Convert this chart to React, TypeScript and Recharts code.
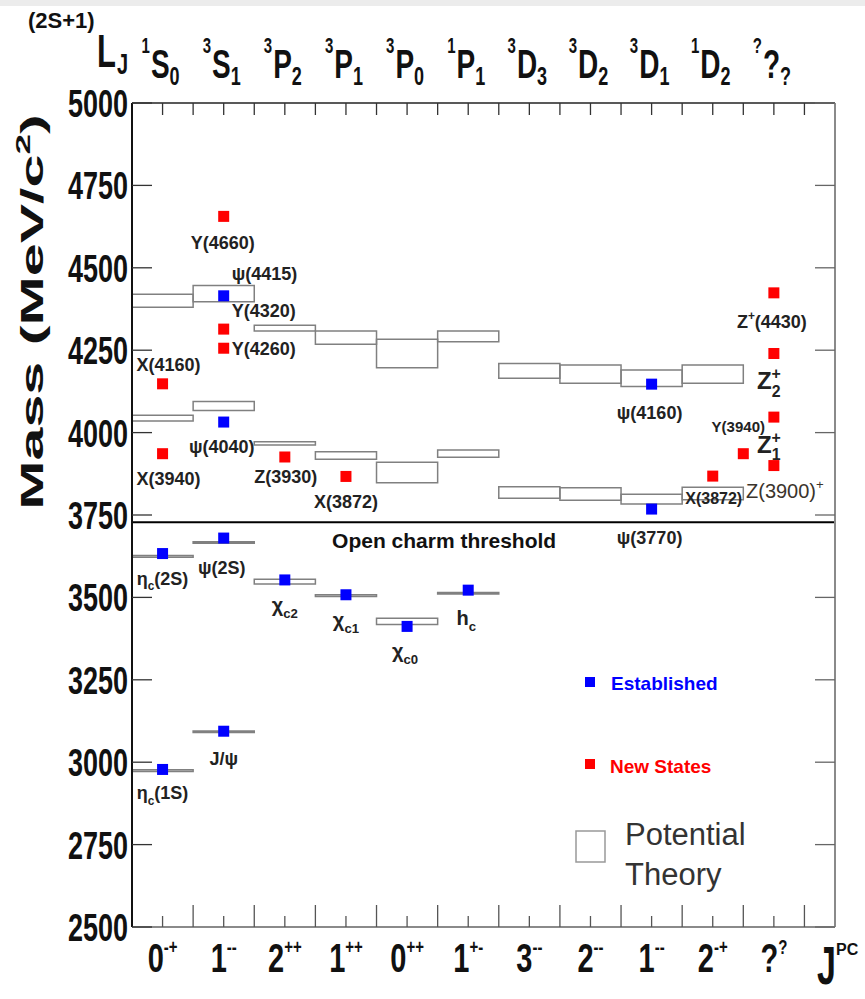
import { ComposedChart, XAxis, YAxis, Scatter, ReferenceArea, ReferenceLine } from 'recharts';

const FONT = 'Liberation Sans, Arial, Helvetica, sans-serif';

// spectroscopic notation across the top, J^PC along the bottom
const spectLabels = [
  ['1', 'S', '0'], ['3', 'S', '1'], ['3', 'P', '2'], ['3', 'P', '1'], ['3', 'P', '0'], ['1', 'P', '1'],
  ['3', 'D', '3'], ['3', 'D', '2'], ['3', 'D', '1'], ['1', 'D', '2'], ['?', '?', '?'],
];
const jpcLabels = [
  ['0', '-+'], ['1', '--'], ['2', '++'], ['1', '++'], ['0', '++'], ['1', '+-'],
  ['3', '--'], ['2', '--'], ['1', '--'], ['2', '-+'], ['?', '?'],
];
const massTicks = [2500, 2750, 3000, 3250, 3500, 3750, 4000, 4250, 4500, 4750, 5000];
const columnTicks = [0, 0.5, 1, 1.5, 2, 2.5, 3, 3.5, 4, 4.5, 5, 5.5, 6, 6.5, 7, 7.5, 8, 8.5, 9, 9.5, 10, 10.5, 11, 11.5];

const openCharmThreshold = 3728;

// potential model predictions: [column, low mass, high mass]
const theoryBound = [
  [0, 2972, 2977], [1, 3090, 3095], [0, 3622, 3627], [1, 3664, 3669],
  [2, 3541, 3555], [3, 3503, 3508], [4, 3418, 3437], [5, 3510, 3515],
];
const theoryLower = [
  [0, 4035, 4053], [1, 4067, 4094], [2, 3962, 3972], [3, 3919, 3942], [4, 3848, 3910],
  [5, 3925, 3947], [6, 3801, 3836], [7, 3795, 3833], [8, 3783, 3813], [9, 3796, 3834],
];
const theoryUpper = [
  [0, 4380, 4420], [1, 4397, 4446], [2, 4308, 4326], [3, 4268, 4308], [4, 4197, 4283],
  [5, 4276, 4308], [6, 4165, 4210], [7, 4150, 4205], [8, 4140, 4190], [9, 4150, 4205],
];

const established = [
  { label: 'η_{c}(1S)', col: 0, mass: 2978 },
  { label: 'J/ψ', col: 1, mass: 3094 },
  { label: 'χ_{c0}', col: 4, mass: 3412 },
  { label: 'χ_{c1}', col: 3, mass: 3508 },
  { label: 'h_{c}', col: 5, mass: 3522 },
  { label: 'χ_{c2}', col: 2, mass: 3553 },
  { label: 'η_{c}(2S)', col: 0, mass: 3633 },
  { label: 'ψ(2S)', col: 1, mass: 3680 },
  { label: 'ψ(3770)', col: 8, mass: 3768 },
  { label: 'ψ(4040)', col: 1, mass: 4032 },
  { label: 'ψ(4160)', col: 8, mass: 4147 },
  { label: 'ψ(4415)', col: 1, mass: 4415 },
];
const newStates = [
  { label: 'X(3940)', col: 0, mass: 3936 },
  { label: 'X(4160)', col: 0, mass: 4148 },
  { label: 'Z(3930)', col: 2, mass: 3926 },
  { label: 'X(3872)', col: 3, mass: 3867 },
  { label: 'Y(4260)', col: 1, mass: 4256 },
  { label: 'Y(4320)', col: 1, mass: 4314 },
  { label: 'Y(4660)', col: 1, mass: 4656 },
  { label: 'X(3872)', col: 9, mass: 3868 },
  { label: 'Y(3940)', col: 9.5, mass: 3936 },
  { label: 'Z(3900)^{+}', col: 10, mass: 3900 },
  { label: 'Z^{+}_{1}', col: 10, mass: 4047 },
  { label: 'Z^{+}_{2}', col: 10, mass: 4240 },
  { label: 'Z^{+}(4430)', col: 10, mass: 4424 },
];

// where each name sits relative to its marker
const labelPlace: Record<string, any> = {
  'η_{c}(1S)@0': { dx: 0, dy: 30 },
  'J/ψ@1': { dx: 0, dy: 34 },
  'χ_{c0}@4': { dx: -2, dy: 32, size: 20 },
  'χ_{c1}@3': { dx: 0, dy: 32, size: 20 },
  'h_{c}@5': { dx: -2, dy: 35, size: 20 },
  'χ_{c2}@2': { dx: 0, dy: 32, size: 20 },
  'η_{c}(2S)@0': { dx: 0, dy: 31 },
  'ψ(2S)@1': { dx: -2, dy: 36 },
  'ψ(3770)@8': { dx: -2, dy: 35 },
  'ψ(4040)@1': { dx: -2, dy: 31 },
  'ψ(4160)@8': { dx: -2, dy: 35 },
  'ψ(4415)@1': { dx: 8, dy: -16, anchor: 'start' },
  'X(3940)@0': { dx: 6, dy: 31 },
  'X(4160)@0': { dx: 6, dy: -13 },
  'Z(3930)@2': { dx: 1, dy: 26 },
  'X(3872)@3': { dx: 0, dy: 32 },
  'Y(4260)@1': { dx: 8, dy: 7, anchor: 'start' },
  'Y(4320)@1': { dx: 8, dy: -12, anchor: 'start' },
  'Y(4660)@1': { dx: -1, dy: 33 },
  'X(3872)@9': { dx: 1, dy: 28, size: 16 },
  'Y(3940)@9.5': { dx: -5, dy: -22, size: 15 },
  'Z(3900)^{+}@10': { dx: 11, dy: 32, size: 20, weight: 'normal', fill: '#3b342c' },
  'Z^{+}_{1}@10': { dx: -5, dy: 36, size: 24 },
  'Z^{+}_{2}@10': { dx: -5, dy: 36, size: 24 },
  'Z^{+}(4430)@10': { dx: -2, dy: 35 },
};

function parseRich(s: string) {
  const parts: { t: string; k: string }[] = [];
  const re = /([_^])\{([^}]*)\}/g;
  let last = 0;
  let m: RegExpExecArray | null;
  while ((m = re.exec(s))) {
    if (m.index > last) parts.push({ t: s.slice(last, m.index), k: 'n' });
    parts.push({ t: m[2], k: m[1] === '_' ? 'sub' : 'sup' });
    last = re.lastIndex;
  }
  if (last < s.length) parts.push({ t: s.slice(last), k: 'n' });
  return parts;
}

function RichText({ x, y, text, size = 18, fill = '#222', weight = 'bold', anchor = 'middle' }: any) {
  const parts = parseRich(text);
  let base = 0;
  const small = size * 0.66;
  return (
    <text x={x} y={y} textAnchor={anchor} fontSize={size} fontWeight={weight} fill={fill} fontFamily={FONT}>
      {parts.map((p, i) => {
        let target = 0;
        let fs = size;
        if (p.k === 'sub') { target = size * 0.3; fs = small; }
        if (p.k === 'sup') { target = -size * 0.42; fs = small; }
        let dx: number | undefined;
        if (p.k === 'sub' && i > 0 && parts[i - 1].k === 'sup') dx = -parts[i - 1].t.length * small * 0.58;
        const dy = target - base;
        base = target;
        return (
          <tspan key={i} dy={dy} dx={dx} fontSize={fs}>{p.t}</tspan>
        );
      })}
    </text>
  );
}

const makeShape = (color: string) => (props: any) => {
  const { cx, cy, payload } = props;
  const place = labelPlace[`${payload.label}@${payload.col}`] || { dx: 0, dy: 30 };
  return (
    <g>
      <rect x={cx - 5.5} y={cy - 5.5} width={11} height={11} fill={color} />
      <RichText
        x={cx + place.dx}
        y={cy + place.dy}
        text={payload.label}
        size={place.size ?? 18}
        fill={place.fill ?? '#222'}
        weight={place.weight ?? 'bold'}
        anchor={place.anchor ?? 'middle'}
      />
    </g>
  );
};

const toPoints = (list: any[]) => list.map((s) => ({ x: s.col + 0.5, y: s.mass, label: s.label, col: s.col }));

const isWhole = (v: number) => Math.abs(v - Math.round(v)) < 1e-6;

const BottomTick = (props: any) => {
  const { x, y, payload } = props;
  const v = payload.value as number;
  if (v <= 0 || v >= 11.5) return <g />;
  const whole = isWhole(v);
  const lab = whole ? null : jpcLabels[Math.floor(v)];
  return (
    <g>
      <line x1={x} x2={x} y1={y} y2={y - (whole ? 22 : 11)} stroke="#555" strokeWidth={1.3} />
      {lab && (
        <g transform={`translate(${x},${y + 45}) scale(1,1.4)`}>
          <text textAnchor="middle" fontSize={29} fontWeight="bold" fill="#111" fontFamily={FONT}>
            <tspan>{lab[0]}</tspan>
            <tspan fontSize={15} dy={-13}>{lab[1]}</tspan>
          </text>
        </g>
      )}
    </g>
  );
};

const TopTick = (props: any) => {
  const { x, y, payload } = props;
  const v = payload.value as number;
  if (v <= 0 || v >= 11.5) return <g />;
  const lab = isWhole(v) ? null : spectLabels[Math.floor(v)];
  return (
    <g>
      <line x1={x} x2={x} y1={y} y2={y + 12} stroke="#333" strokeWidth={1.3} />
      {lab && (
        <g transform={`translate(${x - 2},${y - 25}) scale(1,1.45)`}>
          <text textAnchor="middle" fontSize={28} fontWeight="bold" fill="#111" fontFamily={FONT}>
            <tspan fontSize={15} dy={-17}>{lab[0]}</tspan>
            <tspan dx={1} dy={17}>{lab[1]}</tspan>
            <tspan fontSize={18} dy={5}>{lab[2]}</tspan>
          </text>
        </g>
      )}
    </g>
  );
};

const LeftTick = (props: any) => {
  const { x, y, payload } = props;
  return (
    <g>
      <line x1={x} x2={x + 20} y1={y} y2={y} stroke="#333" strokeWidth={1.3} />
      <g transform={`translate(${x - 4},${y + 14}) scale(1,1.45)`}>
        <text textAnchor="end" fontSize={27} fontWeight="bold" fill="#111" fontFamily={FONT}>{payload.value}</text>
      </g>
    </g>
  );
};

const RightTick = (props: any) => {
  const { x, y } = props;
  return <line x1={x} x2={x - 20} y1={y} y2={y} stroke="#666" strokeWidth={1.3} />;
};

const ThresholdLabel = (props: any) => {
  const { viewBox } = props;
  return (
    <text
      x={viewBox.x + viewBox.width * 0.444}
      y={viewBox.y + 26}
      textAnchor="middle"
      fontSize={21}
      fontWeight="bold"
      fill="#111"
      fontFamily={FONT}
    >Open charm threshold</text>
  );
};

const box = (b: number[], key: string) => (
  <ReferenceArea
    key={key}
    x1={b[0]}
    x2={b[0] + 1}
    y1={b[1]}
    y2={b[2]}
    fill="none"
    fillOpacity={0}
    stroke="#808080"
    strokeWidth={1.5}
  />
);

export default function App() {
  return (
    <div style={{ position: 'absolute', left: 0, top: 0, width: 865, height: 999, background: '#fff' }}>
      <ComposedChart width={865} height={999} margin={{ top: 43, right: 20, bottom: 12, left: 32 }}>
        <XAxis
          xAxisId={0}
          type="number"
          dataKey="x"
          domain={[0, 11.5]}
          ticks={columnTicks}
          interval={0}
          tickLine={false}
          tickSize={0}
          tickMargin={0}
          tick={BottomTick}
          height={60}
          axisLine={{ stroke: '#8a8a8a', strokeWidth: 2 }}
        />
        <XAxis
          xAxisId="top"
          orientation="top"
          type="number"
          dataKey="x"
          domain={[0, 11.5]}
          ticks={columnTicks}
          interval={0}
          tickLine={false}
          tickSize={0}
          tickMargin={0}
          tick={TopTick}
          height={60}
          axisLine={{ stroke: '#222', strokeWidth: 1.5 }}
        />
        <YAxis
          yAxisId={0}
          type="number"
          dataKey="y"
          domain={[2500, 5000]}
          ticks={massTicks}
          interval={0}
          tickLine={false}
          tickSize={0}
          tickMargin={0}
          tick={LeftTick}
          width={100}
          axisLine={{ stroke: '#111', strokeWidth: 2 }}
        />
        <YAxis
          yAxisId="right"
          orientation="right"
          type="number"
          dataKey="y"
          domain={[2500, 5000]}
          ticks={massTicks}
          interval={0}
          tickLine={false}
          tickSize={0}
          tickMargin={0}
          tick={RightTick}
          width={10}
          axisLine={{ stroke: '#8a8a8a', strokeWidth: 2 }}
        />
        {theoryBound.map((b, i) => box(b, `b${i}`))}
        {theoryLower.map((b, i) => box(b, `l${i}`))}
        {theoryUpper.map((b, i) => box(b, `u${i}`))}
        <ReferenceLine y={openCharmThreshold} stroke="#000" strokeWidth={2} label={ThresholdLabel} />
        <Scatter data={toPoints(established)} shape={makeShape('#0000ff')} isAnimationActive={false} />
        <Scatter
          xAxisId="top"
          yAxisId="right"
          data={toPoints(newStates)}
          shape={makeShape('#ff0000')}
          isAnimationActive={false}
        />
      </ComposedChart>
      <svg width={865} height={999} style={{ position: 'absolute', left: 0, top: 0, pointerEvents: 'none' }}>
        <rect x={0} y={0} width={865} height={6} fill="#ececec" />
        <text x={28} y={28} fontSize={22} fontWeight="bold" fill="#111" fontFamily={FONT}>(2S+1)</text>
        <g transform="translate(97,67) scale(1,1.5)">
          <text fontSize={31} fontWeight="bold" fill="#111" fontFamily={FONT}>L</text>
        </g>
        <g transform="translate(117,74) scale(1,1.5)">
          <text fontSize={20} fontWeight="bold" fill="#111" fontFamily={FONT}>J</text>
        </g>
        <g transform="translate(43,312) rotate(-90) scale(1.85,1)">
          <text textAnchor="middle" fontSize={32} fontWeight="bold" fill="#111" fontFamily={FONT}>
            <tspan>Mass (MeV/c</tspan>
            <tspan fontSize={20} dy={-13}>2</tspan>
            <tspan dy={13}>)</tspan>
          </text>
        </g>
        <g transform="translate(817,984) scale(1,1.6)">
          <text fontSize={34} fontWeight="bold" fill="#111" fontFamily={FONT}>J</text>
        </g>
        <text x={836} y={955} fontSize={16} fontWeight="bold" fill="#111" fontFamily={FONT}>PC</text>
        <rect x={585} y={677} width={10} height={10} fill="#0000ff" />
        <text x={611} y={690} fontSize={19} fontWeight="bold" fill="#0000ff" fontFamily={FONT}>Established</text>
        <rect x={585} y={759} width={10} height={10} fill="#ff0000" />
        <text x={610} y={773} fontSize={19} fontWeight="bold" fill="#ff0000" fontFamily={FONT}>New States</text>
        <rect x={576} y={831} width={29} height={31} fill="none" stroke="#999" strokeWidth={1.5} />
        <text x={625} y={845} fontSize={31} fill="#333" fontFamily={FONT}>Potential</text>
        <text x={625} y={885} fontSize={31} fill="#333" fontFamily={FONT}>Theory</text>
      </svg>
    </div>
  );
}
